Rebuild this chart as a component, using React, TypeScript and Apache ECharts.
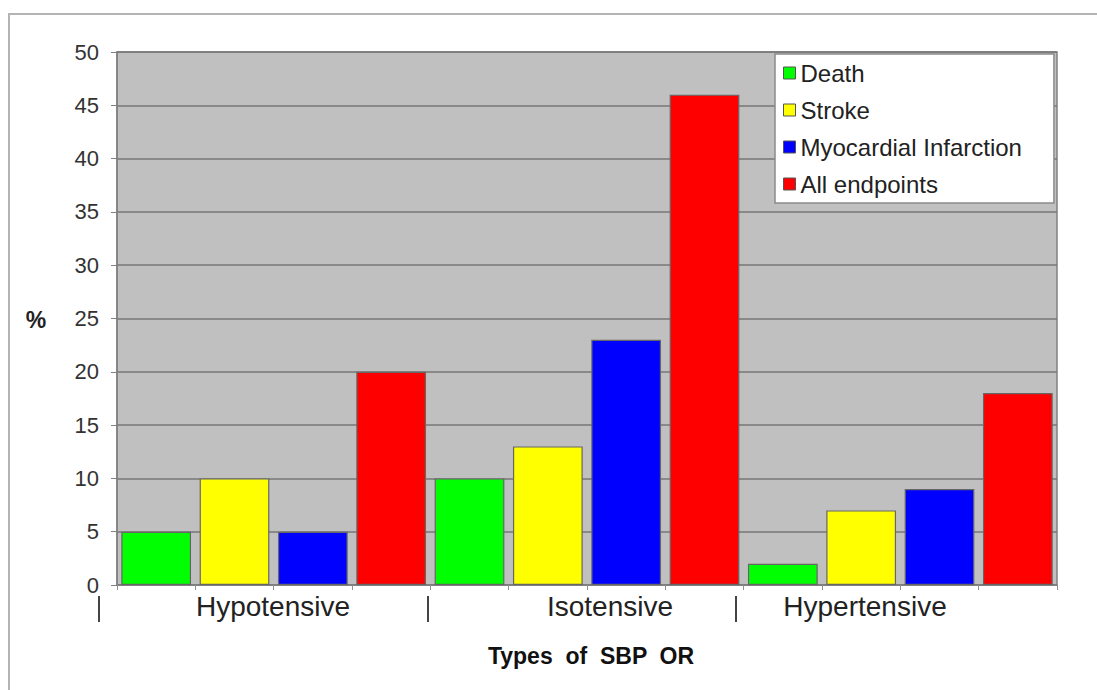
import React, { useEffect, useRef } from "react";
import * as echarts from "echarts";

const groups = ["Hypotensive", "Isotensive", "Hypertensive"];
const seriesNames = ["Death", "Stroke", "Myocardial Infarction", "All endpoints"];
const death = [5, 10, 2];
const stroke = [10, 13, 7];
const mi = [5, 23, 9];
const allEndpoints = [20, 46, 18];
const yTicks = [0, 5, 10, 15, 20, 25, 30, 35, 40, 45, 50];
const colors = ["#00FF00", "#FFFF00", "#0000FF", "#FF0000"];
const xTitle = "Types  of  SBP  OR";
const yTitle = "%";

const FONT = "'Liberation Sans', Arial, sans-serif";

export default function App() {
  const ref = useRef<HTMLDivElement>(null);
  useEffect(() => {
    document.body.style.margin = "0";
    if (!ref.current) return;
    const chart = echarts.init(ref.current, null, { renderer: "svg" });
    const values = [death, stroke, mi, allEndpoints];
    const categories: string[] = [];
    groups.forEach((g) => seriesNames.forEach((s) => categories.push(g + " " + s)));
    const series = seriesNames.map((name, si) => {
      const data: (number | string)[] = categories.map(() => "-");
      groups.forEach((_, gi) => {
        data[gi * seriesNames.length + si] = values[si][gi];
      });
      return {
        name,
        type: "bar",
        data,
        barGap: "-100%",
        barCategoryGap: "11%",
        itemStyle: { color: colors[si], borderColor: "#666", borderWidth: 1.2 },
      };
    });
    const groupX = [273, 610, 865];
    const sepX = [99, 428, 736];
    const graphic: any[] = [
      {
        type: "rect",
        shape: { x: 9, y: 14, width: 1200, height: 800 },
        style: { fill: "none", stroke: "#b4b4b4", lineWidth: 2 },
        silent: true,
        z: 0,
      },
      ...groups.map((g, i) => ({
        type: "text",
        x: groupX[i],
        y: 606,
        style: { text: g, font: `28px ${FONT}`, fill: "#222", textAlign: "center", textVerticalAlign: "middle" },
      })),
      ...sepX.map((x) => ({
        type: "line",
        shape: { x1: x, y1: 596, x2: x, y2: 622 },
        style: { stroke: "#444", lineWidth: 2 },
      })),
      {
        type: "text",
        x: 591,
        y: 656,
        style: { text: xTitle, font: `bold 23px ${FONT}`, fill: "#111", textAlign: "center", textVerticalAlign: "middle" },
      },
      {
        type: "text",
        x: 36,
        y: 320,
        style: { text: yTitle, font: `bold 23px ${FONT}`, fill: "#222", textAlign: "center", textVerticalAlign: "middle" },
      },
    ];
    chart.setOption({
      animation: false,
      backgroundColor: "#ffffff",
      grid: {
        left: 117,
        top: 52,
        right: 40,
        bottom: 105,
        show: true,
        backgroundColor: "#C0C0C0",
        borderColor: "#808080",
        borderWidth: 1.5,
      },
      legend: {
        orient: "vertical",
        left: 775,
        top: 54,
        data: seriesNames,
        icon: "rect",
        itemWidth: 12,
        itemHeight: 12,
        itemGap: 11,
        padding: [6, 32, 6, 8],
        backgroundColor: "#ffffff",
        borderColor: "#8a8a8a",
        borderWidth: 1.5,
        itemStyle: { borderColor: "#555", borderWidth: 1 },
        textStyle: { fontSize: 24, fontFamily: FONT, color: "#222", lineHeight: 26 },
      },
      xAxis: {
        type: "category",
        data: categories,
        axisLabel: { show: false },
        axisLine: { show: true, lineStyle: { color: "#808080", width: 1.5 } },
        axisTick: { show: true, interval: 0, length: 5, lineStyle: { color: "#909090" } },
      },
      yAxis: {
        type: "value",
        min: yTicks[0],
        max: yTicks[yTicks.length - 1],
        interval: 5,
        axisLine: { show: true, lineStyle: { color: "#808080", width: 1.5 } },
        axisTick: { show: true, length: 6, lineStyle: { color: "#808080" } },
        axisLabel: { fontSize: 22, fontFamily: FONT, color: "#333", margin: 18 },
        splitLine: { show: true, lineStyle: { color: "#777", width: 1.5 } },
      },
      series,
      graphic,
    });
    return () => chart.dispose();
  }, []);
  return <div ref={ref} style={{ width: 1097, height: 690 }} />;
}
